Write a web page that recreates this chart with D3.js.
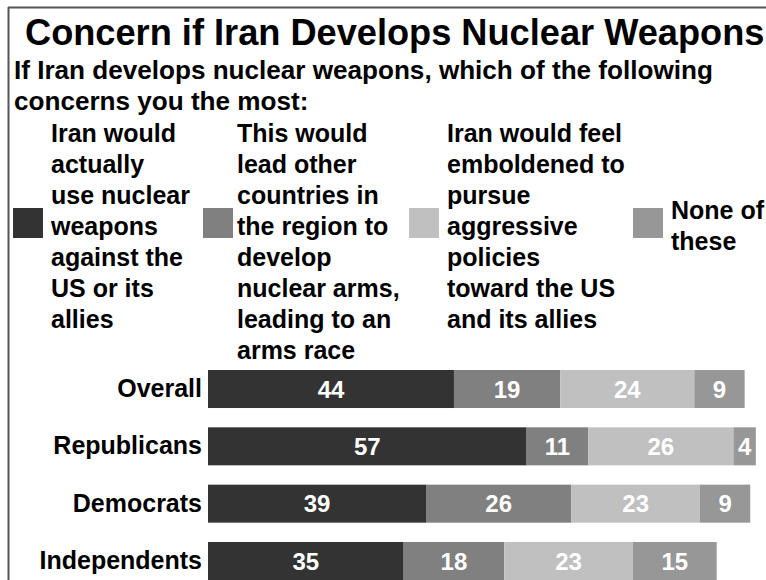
<!DOCTYPE html>
<html>
<head>
<meta charset="utf-8">
<script src="https://cdn.jsdelivr.net/npm/d3@7"></script>
<style>
  html, body { margin: 0; padding: 0; background: #fff; }
  svg { display: block; font-family: "Liberation Sans", Arial, sans-serif; }
</style>
</head>
<body>
<svg id="chart" width="766" height="580"></svg>
<script>
// ---- data ----
const title = "Concern if Iran Develops Nuclear Weapons";
const subtitleLines = ["If Iran develops nuclear weapons, which of the following", "concerns you the most:"];
const categories = ["Overall", "Republicans", "Democrats", "Independents"];
const seriesNames = [
  "Iran would actually use nuclear weapons against the US or its allies",
  "This would lead other countries in the region to develop nuclear arms, leading to an arms race",
  "Iran would feel emboldened to pursue aggressive policies toward the US and its allies",
  "None of these"
];
const legendLines = [
  ["Iran would", "actually", "use nuclear", "weapons", "against the", "US or its", "allies"],
  ["This would", "lead other", "countries in", "the region to", "develop", "nuclear arms,", "leading to an", "arms race"],
  ["Iran would feel", "emboldened to", "pursue", "aggressive", "policies", "toward the US", "and its allies"],
  ["None of", "these"]
];
const useNuclear = [44, 57, 39, 35];
const armsRace = [19, 11, 26, 18];
const emboldened = [24, 26, 23, 23];
const noneOfThese = [9, 4, 9, 15];
const seriesValues = [useNuclear, armsRace, emboldened, noneOfThese];
const colors = ["#333333", "#808080", "#c0c0c0", "#979797"];

// ---- layout ----
const svg = d3.select("#chart");
const W = 766, H = 580;

// frame
svg.append("line").attr("x1", 8.5).attr("x2", 8.5).attr("y1", 7).attr("y2", H)
  .attr("stroke", "#555").attr("stroke-width", 2);
svg.append("line").attr("x1", 8).attr("x2", W).attr("y1", 7.5).attr("y2", 7.5)
  .attr("stroke", "#555").attr("stroke-width", 2);

// title
svg.append("text").attr("x", 25).attr("y", 45)
  .attr("font-size", 36.2).attr("font-weight", "bold").attr("fill", "#000")
  .text(title);

// subtitle
svg.selectAll("text.sub").data(subtitleLines).join("text").attr("class", "sub")
  .attr("x", 14).attr("y", (d, i) => 79 + i * 31)
  .attr("font-size", 26.1).attr("font-weight", "bold").attr("fill", "#000")
  .text(d => d);

// legend
const legendX = [13, 203, 409, 633];
const textGap = [8, 4, 8, 8];
const sw = 30, swY = 208, lh = 31, legendCenter = 226, legendTopMin = 133;
const lg = svg.append("g");
seriesNames.forEach((name, i) => {
  const g = lg.append("g").attr("class", "legend-item");
  g.append("rect").attr("x", legendX[i]).attr("y", swY).attr("width", sw).attr("height", sw)
    .attr("fill", colors[i]);
  const lines = legendLines[i];
  const firstCenter = Math.max(legendTopMin, legendCenter - (lines.length - 1) * lh / 2);
  g.selectAll("text").data(lines).join("text")
    .attr("x", legendX[i] + sw + textGap[i])
    .attr("y", (d, j) => firstCenter + j * lh)
    .attr("dy", "0.35em")
    .attr("font-size", 25).attr("font-weight", "bold").attr("fill", "#000")
    .text(d => d);
});

// bars
const x = d3.scaleLinear().domain([0, 100]).range([208, 767]);
const y = d3.scaleBand().domain(categories).range([370, 580]).paddingInner(0.337).paddingOuter(0);

const rows = categories.map((c, ci) => {
  let acc = 0;
  return seriesValues.map((vals, si) => {
    const v = vals[ci];
    const seg = { cat: c, s: si, x0: acc, x1: acc + v, v };
    acc += v;
    return seg;
  });
}).flat();

const bars = svg.append("g");
bars.selectAll("rect").data(rows).join("rect")
  .attr("x", d => x(d.x0))
  .attr("y", d => y(d.cat))
  .attr("width", d => x(d.x1) - x(d.x0))
  .attr("height", y.bandwidth())
  .attr("fill", d => colors[d.s]);

bars.selectAll("text").data(rows).join("text")
  .attr("x", d => (x(d.x0) + x(d.x1)) / 2)
  .attr("y", d => y(d.cat) + y.bandwidth() / 2)
  .attr("dy", "0.36em")
  .attr("text-anchor", "middle")
  .attr("font-size", 24).attr("font-weight", "bold").attr("fill", "#fff")
  .text(d => d.v);

// category axis labels
const yAxis = d3.axisLeft(y).tickSize(0).tickPadding(6);
const ax = svg.append("g").attr("transform", "translate(208,0)").call(yAxis);
ax.select(".domain").remove();
ax.selectAll("text").attr("font-size", 25).attr("font-weight", "bold").attr("fill", "#000")
  .attr("font-family", "Liberation Sans, Arial, sans-serif");
</script>
</body>
</html>
